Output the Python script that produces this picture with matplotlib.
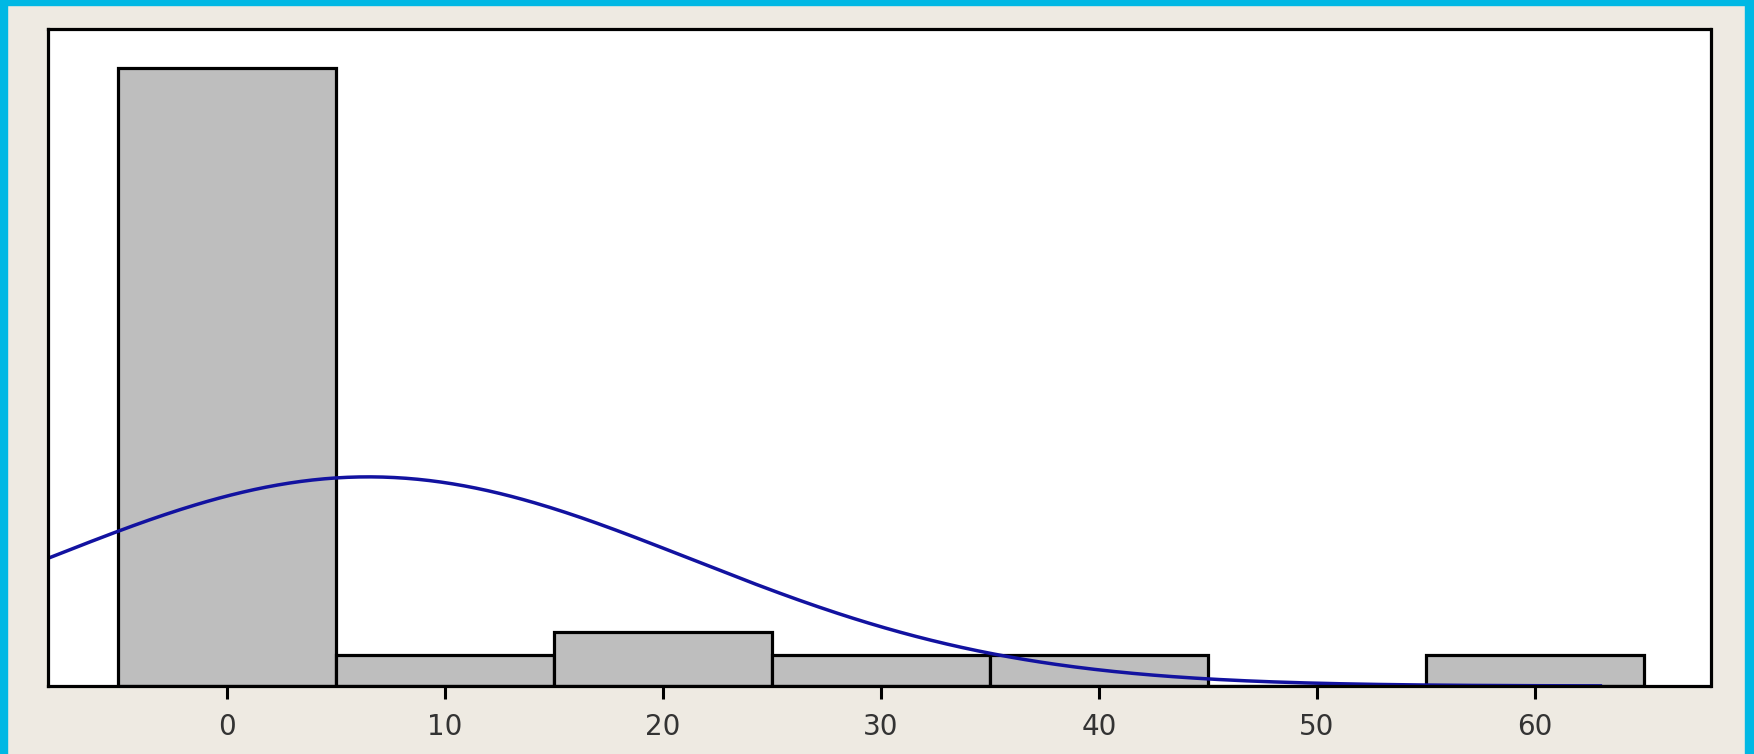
import numpy as np
import matplotlib.pyplot as plt
from matplotlib.patches import Rectangle

# histogram data (bin centres, bar heights)
bin_centers = [0, 10, 20, 30, 40, 50, 60]
bar_heights = [26.3, 1.32, 2.31, 1.32, 1.32, 0, 1.32]
bin_width = 10
tick_values = [0, 10, 20, 30, 40, 50, 60]

# fitted normal curve (mean, sd, peak height)
fit_mean = 6.5
fit_sd = 14.8
fit_peak = 8.9
curve_start, curve_end = -8.2, 63.0

bg = '#EEEAE2'
fig = plt.figure(figsize=(17.54, 7.54), dpi=100, facecolor=bg)

# cyan frame around the window
frame_col = '#00B8E4'
fig.patches.append(Rectangle((0, 0), 7 / 1754, 1, transform=fig.transFigure, color=frame_col, zorder=0))
fig.patches.append(Rectangle((1745 / 1754, 0), 9 / 1754, 1, transform=fig.transFigure, color=frame_col, zorder=0))
fig.patches.append(Rectangle((0, 1 - 5 / 754), 1, 5 / 754, transform=fig.transFigure, color=frame_col, zorder=0))

ax = fig.add_axes([48 / 1754, 68 / 754, (1710.5 - 48) / 1754, (686 - 29) / 754])
ax.set_facecolor('white')

ax.bar(bin_centers, bar_heights, width=bin_width, color='#BEBEBE',
       edgecolor='black', linewidth=2.3, zorder=2)

xs = np.linspace(curve_start, curve_end, 400)
ys = fit_peak * np.exp(-0.5 * ((xs - fit_mean) / fit_sd) ** 2)
ax.plot(xs, ys, color='#1212A0', linewidth=2.5, zorder=3)

ax.set_xlim(-8.2, 68.05)
ax.set_ylim(0, 27.96)
ax.set_xticks(tick_values)
ax.set_xticklabels([str(v) for v in tick_values])
ax.set_yticks([])
ax.tick_params(axis='x', length=9.5, width=2.2, color='black', pad=10,
               labelsize=20, labelcolor='#333333')
for s in ax.spines.values():
    s.set_linewidth(2.3)
    s.set_color('black')
    s.set_zorder(4)

fig.savefig('out.png', dpi=100, facecolor=bg)
